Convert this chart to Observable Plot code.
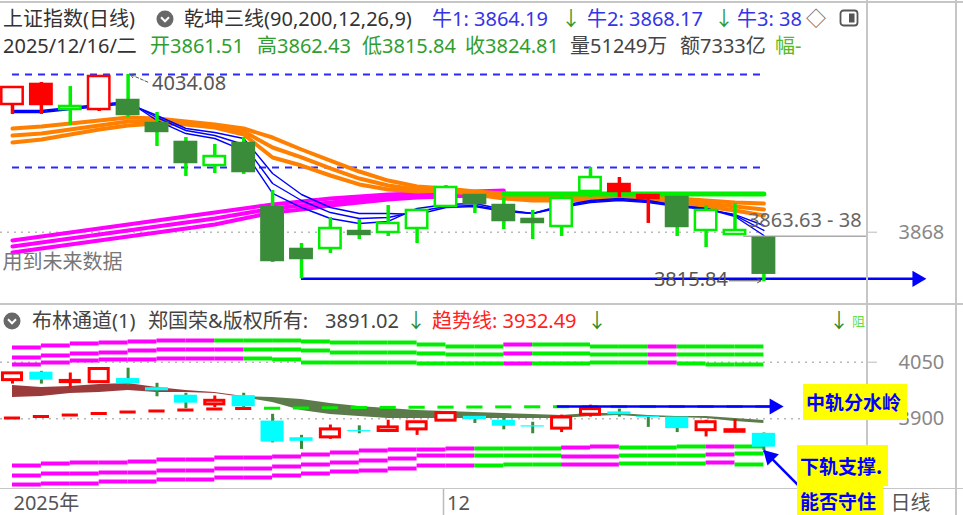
<!DOCTYPE html>
<html>
<head>
<meta charset="utf-8">
<script src="https://cdn.jsdelivr.net/npm/d3@7"></script>
<script src="https://cdn.jsdelivr.net/npm/@observablehq/plot@0.6"></script>
<style>
html,body{margin:0;padding:0;background:#fff;}
#wrap{position:relative;width:963px;height:515px;overflow:hidden;background:#fff;font-family:"Noto Sans","Noto Sans CJK SC",sans-serif;}
#wrap > svg{position:absolute;left:0;}
.t{position:absolute;font-size:20px;line-height:24px;white-space:nowrap;}
.box{position:absolute;background:#ffff00;color:#0000ff;font-weight:700;font-size:19px;white-space:nowrap;font-family:"Noto Sans CJK SC",sans-serif;padding-left:3px;box-sizing:border-box;}
.ln{position:absolute;background:#c6c6c6;}
.ic{position:absolute;}
</style>
</head>
<body>
<div id="wrap"></div>
<script>
// ---------------- DATA ----------------
const dates = ["11/10","11/11","11/12","11/13","11/14","11/17","11/18","11/19","11/20","11/21","11/24","11/25","11/26","11/27","11/28","12/01","12/02","12/03","12/04","12/05","12/08","12/09","12/10","12/11","12/12","12/15","12/16"];
const open  = [4002.5,4023.6,3997.2,3997.2,4006.7,3982.5,3962.5,3938.2,3961.4,3894.0,3849.8,3850.8,3868.7,3867.7,3871.9,3895.1,3906.6,3896.1,3881.4,3874.0,3910.9,3918.2,3906.6,3904.5,3869.8,3865.6,3861.51];
const high  = [4021.4,4025.7,4021.4,4033.0,4034.08,3994.1,3967.7,3960.4,3967.7,3911.9,3856.1,3883.5,3881.4,3896.1,3891.9,3917.2,3907.7,3904.5,3890.9,3909.8,3936.1,3925.6,3907.7,3905.6,3896.1,3898.2,3862.43];
const low   = [3992.0,3992.0,3980.4,3995.1,3988.8,3958.3,3926.7,3929.8,3928.8,3836.1,3818.9,3845.6,3860.3,3863.5,3856.1,3894.0,3887.7,3870.8,3860.3,3863.5,3904.5,3904.5,3877.2,3863.5,3851.9,3864.5,3815.84];
const close = [4020.4,4002.5,4000.4,4032.0,3992.0,3974.1,3941.4,3947.7,3931.9,3838.2,3840.3,3871.9,3865.6,3877.2,3890.9,3915.1,3898.2,3880.3,3878.2,3903.5,3925.6,3910.9,3903.5,3874.0,3890.9,3869.8,3824.81];
// upper panel candle style: rh red hollow, rf red filled, gh green hollow, gf green filled
const upperStyle = ["rh","rf","gh","rh","gf","gf","gf","gh","gf","gf","gf","gh","gf","gh","gh","gh","gf","gf","gf","gh","gh","rf","rf","gf","gh","gh","gf"];

// 乾坤三线 ribbons (upper panel)
const blue1 = [3996.2,3996.2,3999.3,4002.5,4005.7,3985.6,3971.9,3966.7,3954.0,3908.8,3894.0,3882.4,3877.2,3879.3,3893.0,3897.2,3898.2,3891.9,3887.7,3896.1,3901.4,3903.5,3901.4,3896.1,3893.0,3884.5,3864.5];
const blue2 = [3995.1,3995.1,3998.3,4001.4,4004.6,3988.8,3975.1,3969.8,3960.4,3919.3,3901.4,3888.7,3882.4,3883.5,3889.8,3895.1,3896.1,3890.9,3887.7,3895.1,3900.3,3902.4,3900.3,3896.1,3893.0,3885.6,3869.8];
const blue3 = [3994.1,3994.1,3997.2,4000.4,4003.5,3990.9,3977.2,3973.0,3966.7,3929.8,3907.7,3894.0,3887.7,3887.7,3886.6,3894.0,3895.1,3889.8,3887.7,3894.0,3899.3,3901.4,3899.3,3895.1,3891.9,3886.6,3875.0];
const orangeTop = [3977.2,3979.3,3982.5,3985.6,3988.8,3987.7,3984.6,3981.4,3977.2,3967.7,3955.1,3943.5,3931.9,3922.4,3916.2,3914.1,3910.9,3908.8,3906.7,3905.6,3905.6,3906.7,3905.6,3903.5,3901.4,3899.3,3898.2];
const orangeMid = [3969.8,3971.9,3976.2,3980.4,3984.6,3984.6,3983.5,3980.4,3974.1,3957.2,3946.7,3935.1,3924.5,3917.2,3913.0,3913.0,3909.8,3906.7,3904.5,3903.5,3904.5,3905.6,3903.5,3901.4,3898.2,3895.1,3891.9];
const orangeBot = [3962.5,3965.6,3970.9,3976.2,3980.4,3982.5,3981.4,3978.3,3970.9,3946.7,3938.2,3927.7,3918.3,3913.0,3910.9,3912.0,3907.7,3903.5,3901.4,3901.4,3902.4,3903.5,3901.4,3898.2,3895.1,3890.9,3885.6];
const magentaTop = [3859.3,3863.5,3867.7,3871.9,3876.1,3880.3,3884.5,3888.7,3892.9,3897.2,3900.3,3903.5,3905.6,3907.7,3908.8,3909.8,3910.9,3912.0];
const magentaMid = [3852.9,3857.2,3861.4,3865.6,3869.8,3874.0,3878.2,3882.4,3887.7,3892.9,3896.1,3899.3,3902.4,3904.5,3906.7,3907.7,3908.8,3909.8];
const magentaBot = [3846.6,3850.8,3855.0,3859.3,3863.5,3867.7,3871.9,3876.1,3882.4,3888.7,3891.9,3896.1,3899.3,3902.4,3904.5,3905.6,3906.7,3907.7];
const greenStart = 17;
const greenLine = [3908.2,3908.2,3908.2,3908.2,3908.2,3908.2,3908.2,3908.2,3908.2,3908.2];

// 布林通道 (lower panel): band segments between candle i and i+1
const bandU1 = [4089.0,4094.3,4099.6,4102.2,4104.9,4107.5,4107.5,4107.5,4107.5,4107.5,4104.9,4102.2,4102.2,4102.2,4096.9,4091.6,4091.6,4096.9,4096.9,4096.9,4091.6,4091.6,4091.6,4091.6,4091.6,4091.6];
const bandU2 = [4062.5,4067.8,4073.1,4075.7,4081.0,4083.7,4083.7,4083.7,4083.7,4083.7,4081.0,4075.7,4075.7,4075.7,4073.1,4070.4,4070.4,4073.1,4073.1,4073.1,4070.4,4070.4,4070.4,4070.4,4070.4,4070.4];
const bandU3 = [4043.9,4049.2,4054.5,4057.2,4057.2,4059.8,4059.8,4059.8,4059.8,4057.2,4049.2,4049.2,4049.2,4049.2,4046.6,4046.6,4046.6,4046.6,4046.6,4046.6,4049.2,4049.2,4049.2,4046.6,4043.9,4043.9];
const bandL1 = [3776.2,3781.5,3784.2,3784.2,3786.8,3792.1,3792.1,3797.4,3797.4,3800.1,3805.4,3810.7,3816.0,3818.6,3818.6,3821.3,3821.3,3821.3,3821.3,3823.9,3826.6,3823.9,3823.9,3826.6,3826.6,3826.6];
const bandL2 = [3749.7,3755.0,3755.0,3757.7,3757.7,3763.0,3763.0,3768.3,3768.3,3773.6,3778.9,3784.2,3789.5,3794.8,3802.7,3802.7,3802.7,3802.7,3802.7,3800.1,3800.1,3802.7,3802.7,3802.7,3805.4,3808.0];
const bandL3 = [3725.8,3728.5,3728.5,3733.8,3733.8,3739.1,3739.1,3744.4,3744.4,3749.7,3755.0,3760.3,3763.0,3768.3,3776.2,3776.2,3776.2,3778.9,3778.9,3778.9,3778.9,3781.5,3781.5,3781.5,3784.2,3778.9];
const bandU1Color = ["M","M","M","M","M","M","M","G","G","G","G","G","G","G","G","G","G","M","G","G","G","G","M","G","G","G"];
const bandUColor  = ["M","M","M","M","M","M","M","M","G","G","G","G","G","G","G","G","G","M","G","G","G","G","M","G","G","G"];
const bandLColor  = ["M","M","M","M","M","M","M","M","M","M","M","M","M","M","M","M","G","G","G","M","M","G","G","G","M","G"];
const midHi = [3988.2,3982.9,3985.6,3990.9,3993.5,3982.9,3975.0,3969.7,3959.1,3956.4,3951.1,3940.5,3932.6,3927.3,3922.0,3919.3,3916.7,3914.0,3911.4,3908.7,3914.0,3914.0,3908.7,3906.1,3906.1,3900.8,3895.5];
const midLo = [3956.4,3959.1,3967.0,3969.7,3975.0,3969.7,3969.7,3967.0,3956.4,3943.2,3922.0,3911.4,3906.1,3900.8,3900.8,3900.8,3900.8,3900.8,3900.8,3900.8,3906.1,3908.7,3903.4,3903.4,3900.8,3892.8,3887.5];
const midSwitch = 8;
const trend = [3902.1,3906.1,3910.0,3914.0,3918.0,3920.7,3923.3,3926.0,3927.3,3928.0,3928.6,3929.2,3929.9,3930.2,3930.6,3930.9,3931.2,3931.5,3931.8,3932.0,3932.2,3932.3,3932.4,3932.5,3932.5,3932.5,3932.49];
const trendSwitch = 8;

// labels / ticks
const niuValues = [3864.19, 3868.17];
const bollValue = 3891.02;
const costLevel = 3863.63;
const topTicks = [3868];
const lowTicks = [4050, 3900];
const xTickIdx = [0, 15];
const xTickText = ["2025年", "12"];

// ---------------- LAYOUT ----------------
const FONT = '"Noto Sans","Noto Sans CJK SC",sans-serif';
const W = 963, PR = 97;
const xDomain = [-0.415, 29.55];
const idx = d3.range(dates.length);
const segIdx = d3.range(dates.length - 1);
const MAG = "#ff00ff", GRN = "#00ee00", RED = "#ff0000", DKG = "#3a8c3a", BLU = "#0000ff", ORG = "#ff8000";
const col = c => c === "M" ? MAG : GRN;
const baseStyle = {fontFamily: FONT, fontSize: "20px", background: "transparent", overflow: "visible"};

function segRules(vals, colors) {
  return Plot.ruleY(segIdx, {x1: i => i, x2: i => i + 1, y: i => vals[i], stroke: i => col(colors[i]), strokeWidth: 4});
}
const lineOf = (arr, stroke, w, offset = 0) =>
  Plot.line(d3.range(arr.length), {x: i => i + offset, y: i => arr[i], stroke, strokeWidth: w});

const bodyFill = s => s === "rf" ? RED : s === "gf" ? DKG : "#ffffff";
const bodyStroke = s => s[0] === "r" ? RED : s === "gf" ? DKG : GRN;
const wickColor = s => s[0] === "r" ? RED : GRN;

// ---------- upper panel ----------
const topPlot = Plot.plot({
  width: W, height: 304, marginLeft: 0, marginRight: PR, marginTop: 0, marginBottom: 0,
  x: {type: "linear", domain: xDomain, axis: null},
  y: {type: "linear", domain: [3791.85, 4112.02]},
  color: {type: "identity"},
  style: baseStyle,
  marks: [
    Plot.ruleY(topTicks, {x1: xDomain[0], x2: 26, stroke: "#b8b8b8", strokeDasharray: "2,5", strokeWidth: 1.5}),
    Plot.ruleY([high[4], high[20]], {x1: 0, x2: 26, stroke: "#2a2aff", strokeWidth: 2, strokeDasharray: "7,6"}),
    lineOf(magentaTop, MAG, 4), lineOf(magentaMid, MAG, 4), lineOf(magentaBot, MAG, 4),
    lineOf(orangeTop, ORG, 4), lineOf(orangeMid, ORG, 4), lineOf(orangeBot, ORG, 4),
    lineOf(greenLine, GRN, 5, greenStart),
    lineOf(blue1, BLU, 1.4), lineOf(blue2, BLU, 1.4), lineOf(blue3, BLU, 1.4),
    Plot.ruleY([costLevel], {x1: 25.3, x2: xDomain[1], stroke: "#aaa", strokeWidth: 1.5}),
    Plot.ruleY([low[10]], {x1: 10, x2: 31.2, stroke: BLU, strokeWidth: 2.5}),
    Plot.dot([low[10]], {x: 31.3, y: d => d, symbol: "triangle", r: 6, fill: BLU, stroke: null, rotate: 90}),
    Plot.ruleX(idx, {x: i => i, y1: i => low[i], y2: i => high[i], stroke: i => wickColor(upperStyle[i]), strokeWidth: 3.5}),
    Plot.rect(idx, {x1: i => i - 0.37, x2: i => i + 0.37, y1: i => open[i], y2: i => close[i],
      fill: i => bodyFill(upperStyle[i]), stroke: i => bodyStroke(upperStyle[i]), strokeWidth: 2.5}),
    Plot.text([high[4]], {x: 4, y: d => d, text: d => d.toFixed(2), dx: 24, dy: 9, textAnchor: "start", fill: "#555"}),
    Plot.arrow([high[4]], {x1: 4.68, y1: d => d - 8, x2: 4.08, y2: d => d, stroke: "#555", strokeWidth: 1, strokeDasharray: "3,2", headLength: 6}),
    Plot.text([low[26]], {x: 26, y: d => d, text: d => d.toFixed(2), dx: -36, dy: -2, textAnchor: "end", fill: "#555"}),
    Plot.arrow([low[26]], {x1: 24.8, y1: d => d + 1, x2: 25.9, y2: d => d + 1, stroke: "#555", strokeWidth: 1, headLength: 6}),
    Plot.text(["3863.63 - 38"], {x: 26, y: costLevel, text: d => d, dx: -16, dy: -16, textAnchor: "start", fill: "#666", clip: true}),
    Plot.text(["用到未来数据"], {frameAnchor: "bottom-left", text: d => d, dx: 2, dy: -36, textAnchor: "start", fill: "#777"}),
    Plot.axisY(topTicks, {anchor: "right", tickSize: 10, tickPadding: 22, stroke: "#bbb", fill: "#888", label: null, tickFormat: d => String(d)})
  ]
});

// ---------- lower panel ----------
const upIdx = idx.filter(i => close[i] >= open[i]);
const dnIdx = idx.filter(i => close[i] < open[i]);
const lowPlot = Plot.plot({
  width: W, height: 184, marginLeft: 0, marginRight: PR, marginTop: 0, marginBottom: 0,
  x: {type: "linear", domain: xDomain, axis: null},
  y: {type: "linear", domain: [3715.3, 4202.9]},
  color: {type: "identity"},
  style: baseStyle,
  marks: [
    Plot.ruleY(lowTicks, {x1: xDomain[0], x2: xDomain[1], stroke: "#b8b8b8", strokeDasharray: "2,5", strokeWidth: 1.5}),
    segRules(bandU1, bandU1Color), segRules(bandU2, bandUColor), segRules(bandU3, bandUColor),
    segRules(bandL1, bandLColor), segRules(bandL2, bandLColor), segRules(bandL3, bandLColor),
    Plot.areaY(idx.slice(0, midSwitch + 1), {x: i => i, y1: i => midLo[i], y2: i => midHi[i], fill: "#9b3a3a"}),
    Plot.areaY(idx.slice(midSwitch), {x: i => i, y1: i => midLo[i], y2: i => midHi[i], fill: "#5b7b4b"}),
    Plot.ruleY(idx, {x1: i => i - 0.28, x2: i => i + 0.28, y: i => trend[i], stroke: i => i <= trendSwitch ? RED : GRN, strokeWidth: 3}),
    Plot.ruleX(idx, {x: i => i, y1: i => low[i], y2: i => high[i], stroke: i => close[i] >= open[i] ? RED : DKG, strokeWidth: 3}),
    Plot.rect(dnIdx, {x1: i => i - 0.4, x2: i => i + 0.4, y1: i => open[i], y2: i => close[i], fill: "#00ffff"}),
    Plot.rect(upIdx, {x1: i => i - 0.33, x2: i => i + 0.33, y1: i => open[i], y2: i => close[i], fill: "#ffffff", stroke: RED, strokeWidth: 3}),
    Plot.ruleY([trend[26]], {x1: 18.85, x2: 26.3, stroke: BLU, strokeWidth: 2.5}),
    Plot.dot([trend[26]], {x: 26.36, y: d => d, symbol: "triangle", r: 6, fill: BLU, stroke: null, rotate: 90}),
    Plot.link([low[26]], {x1: 27.2, y1: 3723, x2: 26, y2: d => d, stroke: BLU, strokeWidth: 2.5}),
    Plot.dot([low[26]], {x: 26, y: d => d, dx: 6, dy: 6, symbol: "triangle", r: 6, fill: BLU, stroke: null, rotate: -45}),
    Plot.axisY(lowTicks, {anchor: "right", tickSize: 10, tickPadding: 22, stroke: "#bbb", fill: "#888", label: null, tickFormat: d => String(d)})
  ]
});

// ---------- date strip ----------
const axisPlot = Plot.plot({
  width: W, height: 27, marginLeft: 0, marginRight: PR, marginTop: 0, marginBottom: 0,
  x: {type: "linear", domain: xDomain, axis: null},
  style: baseStyle,
  marks: [
    Plot.ruleX(xTickIdx.slice(1), {x: d => d, dx: -2.5, stroke: "#bbb", strokeWidth: 1.5}),
    Plot.text(xTickIdx, {x: d => d, text: (d, j) => xTickText[j], dx: 1, dy: 2, textAnchor: "start", fill: "#555"}),
    Plot.text(["日线"], {frameAnchor: "right", text: d => d, dx: 24, dy: 2, textAnchor: "start", fill: "#555"})
  ]
});

const wrap = document.getElementById("wrap");
topPlot.style.top = "0px"; lowPlot.style.top = "304px"; axisPlot.style.top = "488px";
wrap.appendChild(topPlot); wrap.appendChild(lowPlot); wrap.appendChild(axisPlot);

function line(l, t, w, h) { const d = document.createElement("div"); d.className = "ln"; Object.assign(d.style, {left: l + "px", top: t + "px", width: w + "px", height: h + "px"}); wrap.appendChild(d); }
line(0, 1, 963, 1.5); line(0, 303, 963, 1.5); line(0, 487.5, 963, 1.5);
line(866, 0, 1.5, 515); line(955, 0, 1.5, 515);

function txt(x, y, s, color, extra) {
  const d = document.createElement("div"); d.className = "t";
  d.style.left = x + "px"; d.style.top = y + "px"; d.style.color = color; d.textContent = s;
  if (extra) Object.assign(d.style, extra);
  wrap.appendChild(d); return d;
}
function icon(x, y, html, w, h) {
  const d = document.createElement("div"); d.className = "ic";
  d.style.left = x + "px"; d.style.top = y + "px";
  d.innerHTML = `<svg width="${w}" height="${h}">${html}</svg>`;
  wrap.appendChild(d);
}
const chevron = '<circle cx="9" cy="9" r="8.5" fill="#686868"/><path d="M5 7.3 L9 11.3 L13 7.3" stroke="#fff" stroke-width="2" fill="none"/>';

// header line 1
txt(3, 7, "上证指数(日线)", "#333");
icon(156, 10, chevron, 18, 18);
txt(184, 7, "乾坤三线(90,200,12,26,9)", "#333");
txt(432, 7, `牛1: ${niuValues[0].toFixed(2)}`, "#3434e6");
txt(561, 7, "↓", "#2e9a2e");
txt(587, 7, `牛2: ${niuValues[1].toFixed(2)}`, "#3434e6");
txt(714, 7, "↓", "#2e9a2e");
txt(737, 7, "牛3: 38", "#3434e6");
txt(806, 7, "◇", "#666");
icon(839, 9, '<rect x="1.5" y="1.5" width="17" height="15" rx="3" fill="none" stroke="#555" stroke-width="1.8"/><rect x="10" y="4.5" width="5.5" height="9" fill="#555"/>', 20, 18);
// header line 2
txt(3, 34, "2025/12/16/二", "#333");
txt(150, 34, `开${open[26].toFixed(2)}`, "#2f9e2f");
txt(257, 34, `高${high[26].toFixed(2)}`, "#2f9e2f");
txt(362, 34, `低${low[26].toFixed(2)}`, "#2f9e2f");
txt(465, 34, `收${close[26].toFixed(2)}`, "#2f9e2f");
txt(570, 34, "量51249万", "#444");
txt(680, 34, "额7333亿", "#444");
txt(775, 34, "幅-", "#55bb22");
// lower header
icon(3, 312, chevron, 18, 18);
txt(32, 309, "布林通道(1)", "#444");
txt(148, 309, "郑国荣&版权所有:", "#444");
txt(325, 309, bollValue.toFixed(2), "#444");
txt(406, 309, "↓", "#2e8b2e");
txt(432, 309, `趋势线: ${trend[26].toFixed(2)}`, "#ff2222");
txt(587, 309, "↓", "#2e8b2e");
txt(829, 309, "↓", "#2e8b2e");
txt(852, 312, "阻", "#66dd44", {fontSize: "13px", lineHeight: "18px"});

// annotation boxes
function box(x, y, w, h, s) {
  const d = document.createElement("div"); d.className = "box";
  Object.assign(d.style, {left: x + "px", top: y + "px", width: w + "px", height: h + "px", lineHeight: h + "px"});
  d.textContent = s; wrap.appendChild(d);
}
box(803, 384, 104, 36, "中轨分水岭");
box(797, 445, 91, 41, "下轨支撑.");
box(797, 486, 86, 29, "能否守住");
</script>
</body>
</html>
